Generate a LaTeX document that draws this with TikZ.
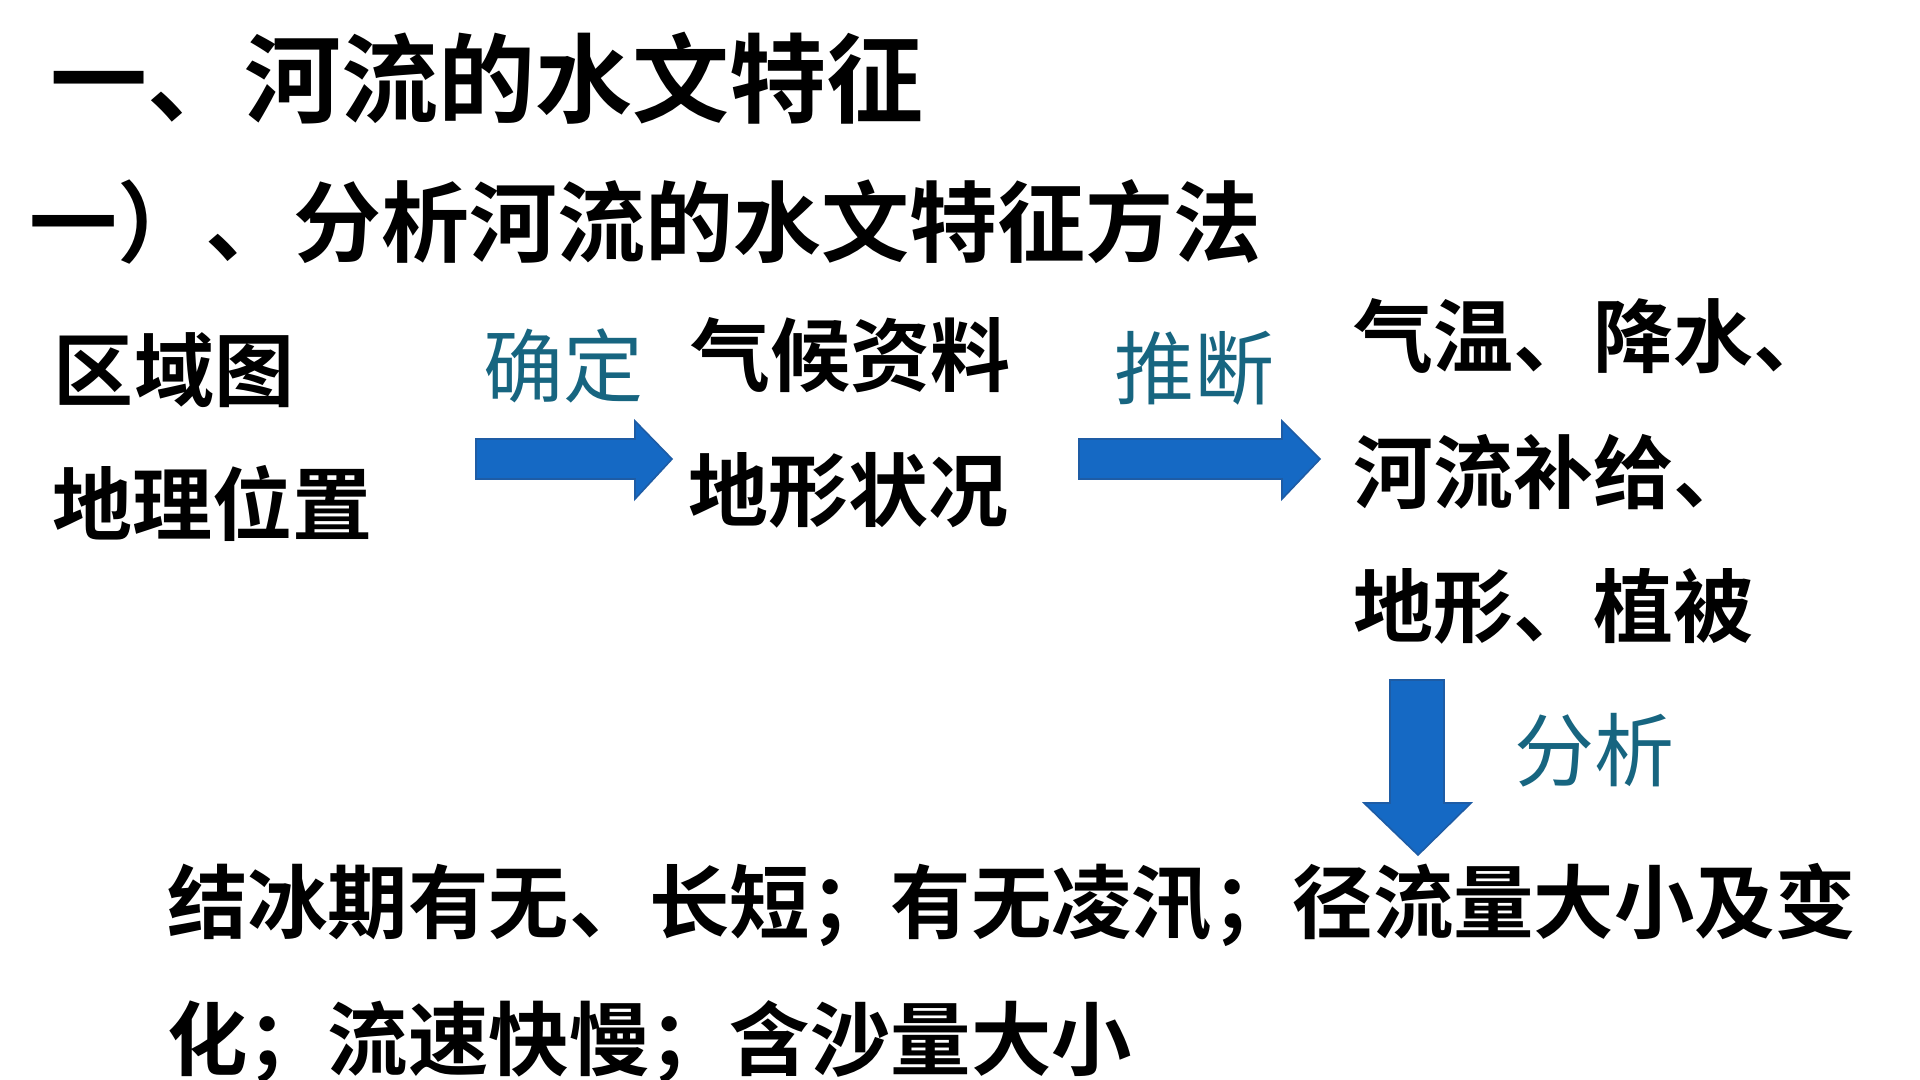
\documentclass[tikz,border=0pt]{standalone}
\usepackage{fontspec}
\newfontfamily\cjk{Noto Sans CJK SC}
\newfontfamily\cjkb{Noto Sans CJK SC Bold}
\definecolor{arrowblue}{RGB}{21,105,196}
\definecolor{arrowedge}{RGB}{30,92,165}
\definecolor{tealtext}{RGB}{23,101,128}
\tikzset{
  txt/.style={anchor=west,inner sep=0pt,outer sep=0pt,font=\cjkb\fontsize{40}{48}\selectfont,text=black},
  lbl/.style={anchor=west,inner sep=0pt,outer sep=0pt,font=\cjk\fontsize{40}{48}\selectfont,text=tealtext},
  blockarrow/.style={fill=arrowblue,draw=arrowedge,line width=0.8pt,line join=miter}
}
\begin{document}
\begin{tikzpicture}[x=0.5pt,y=-0.5pt]
\useasboundingbox (0,0) rectangle (1920,1080);
\fill[white] (0,0) rectangle (1920,1080);
% headings
\node[txt,font=\cjkb\fontsize{48.5}{56}\selectfont] (title) at (50,78) {一、河流的水文特征};
\node[txt,font=\cjkb\fontsize{44}{52}\selectfont] (subtitle) at (29,222) {一）、分析河流的水文特征方法};
% left column
\node[txt] (region) at (54,370) {区域图};
\node[txt] (geo) at (52,503) {地理位置};
% labels
\node[lbl] (determine) at (483,366) {确定};
\node[lbl] (infer) at (1114,368) {推断};
\node[lbl] (analyse) at (1514,750) {分析};
% middle column
\node[txt] (climate) at (690,355) {气候资料};
\node[txt] (terrain) at (688,490) {地形状况};
% right column
\node[txt] (r1) at (1353,336) {气温、降水、};
\node[txt] (r2) at (1353,472) {河流补给、};
\node[txt] (r3) at (1353,606) {地形、植被};
% bottom
\node[txt,font=\cjkb\fontsize{40.2}{48}\selectfont] (b1) at (167,905) {结冰期有无、长短；有无凌汛；径流量大小及变};
\node[txt,font=\cjkb\fontsize{40.2}{48}\selectfont] (b2) at (167,1042) {化；流速快慢；含沙量大小};
% block arrows
\coordinate (a1s) at (476,459);
\coordinate (a1t) at (672,459);
\draw[blockarrow] (476,439) -- (635,439) -- (635,421) -- (a1t) -- (635,499) -- (635,479) -- (476,479) -- cycle;
\coordinate (a2s) at (1079,459);
\coordinate (a2t) at (1320,459);
\draw[blockarrow] (1079,439) -- (1282,439) -- (1282,421) -- (a2t) -- (1282,499) -- (1282,479) -- (1079,479) -- cycle;
\coordinate (a3s) at (1417,680);
\coordinate (a3t) at (1418,855);
\draw[blockarrow] (1390,680) -- (1444,680) -- (1444,803) -- (1471,803) -- (a3t) -- (1364,803) -- (1390,803) -- cycle;
\end{tikzpicture}
\end{document}
